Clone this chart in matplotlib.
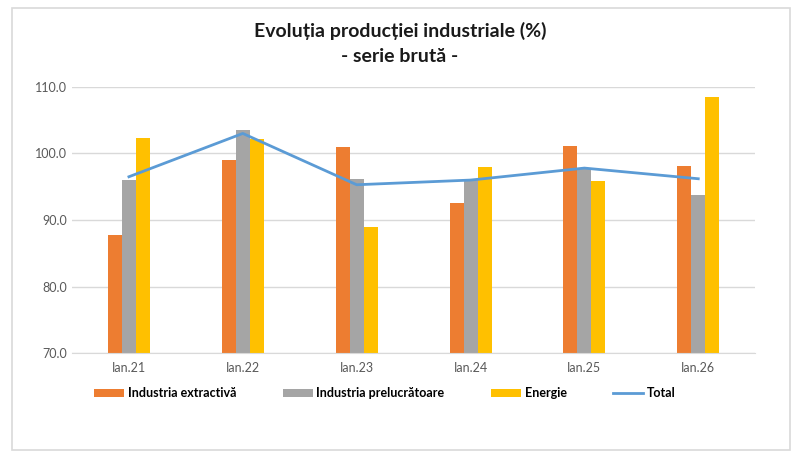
import matplotlib.pyplot as plt
from matplotlib.patches import Rectangle
import numpy as np

plt.rcParams['font.family'] = ['Lato', 'DejaVu Sans']

categories = ['Ian.21', 'Ian.22', 'Ian.23', 'Ian.24', 'Ian.25', 'Ian.26']
extractiva = [87.8, 99.0, 100.9, 92.5, 101.1, 98.1]
prelucratoare = [96.0, 103.5, 96.2, 96.0, 97.7, 93.7]
energie = [102.3, 102.1, 88.9, 97.9, 95.8, 108.5]
total = [96.5, 103.0, 95.3, 96.0, 97.8, 96.2]

fig = plt.figure(figsize=(8, 4.57), dpi=100)
ax = fig.add_axes([0.09, 0.227, 0.854, 0.583])

# outer frame of the chart
fig.patches.append(Rectangle((0.015, 0.015), 0.973, 0.967, transform=fig.transFigure,
                             fill=False, edgecolor='#d9d9d9', linewidth=1.2))

x = np.arange(len(categories))
w = 0.123
b1 = ax.bar(x - w, extractiva, w, color='#ED7D31', label='Industria extractivă', zorder=2)
b2 = ax.bar(x, prelucratoare, w, color='#A5A5A5', label='Industria prelucrătoare', zorder=2)
b3 = ax.bar(x + w, energie, w, color='#FFC000', label='Energie', zorder=2)
ln, = ax.plot(x, total, color='#5B9BD5', linewidth=2, label='Total', zorder=3)

ax.set_ylim(70, 110)
ax.set_xlim(-0.5, len(categories) - 0.5)
ax.set_yticks([70, 80, 90, 100, 110])
ax.set_yticklabels([f'{v:.1f}' for v in [70, 80, 90, 100, 110]])
ax.set_xticks(x)
ax.set_xticklabels(categories)
ax.tick_params(length=0, labelsize=9, colors='#595959')
ax.tick_params(axis='x', pad=6)
ax.grid(axis='y', color='#d9d9d9', linewidth=1, zorder=0)
for s in ['top', 'right', 'left']:
    ax.spines[s].set_visible(False)
ax.spines['bottom'].set_color('#d9d9d9')

fig.text(0.5, 0.933, 'Evoluția producției industriale (%)', ha='center', va='center',
         fontsize=14, fontweight='bold', color='#1a1a1a')
fig.text(0.5, 0.877, '- serie brută -', ha='center', va='center',
         fontsize=14, fontweight='bold', color='#1a1a1a')

fig.legend([b1, b2, b3, ln], ['Industria extractivă', 'Industria prelucrătoare', 'Energie', 'Total'],
           loc='center', bbox_to_anchor=(0.481, 0.14), ncol=4, frameon=False,
           handlelength=2.4, handleheight=0.6, columnspacing=3.7, handletextpad=0.3,
           prop={'size': 9, 'weight': 'bold'})

fig.savefig('out.png', dpi=100)
